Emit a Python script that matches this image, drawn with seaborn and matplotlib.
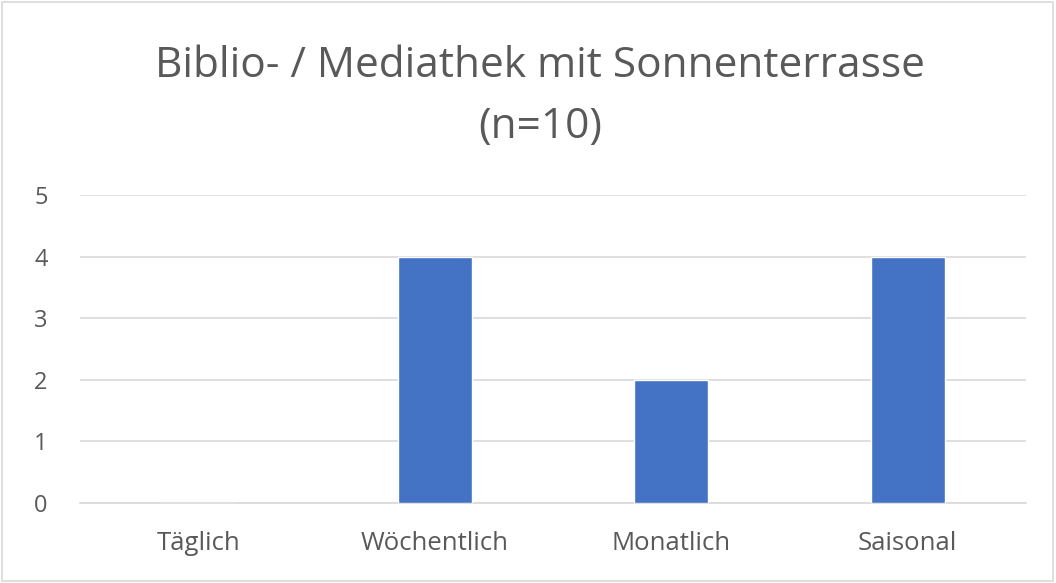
import matplotlib
matplotlib.use("Agg")
import matplotlib.pyplot as plt
import seaborn as sns
import pandas as pd
from matplotlib.patches import Rectangle

categories = ["Täglich", "Wöchentlich", "Monatlich", "Saisonal"]
values = [0, 4, 2, 4]
yticks = [0, 1, 2, 3, 4, 5]
title_lines = ["Biblio- / Mediathek mit Sonnenterrasse", "(n=10)"]

sns.set_theme(style="white")
plt.rcParams['font.family'] = ['Open Sans', 'DejaVu Sans']

df = pd.DataFrame({"cat": categories, "val": values})

fig = plt.figure(figsize=(10.56, 5.83), dpi=100)
ax = fig.add_axes([80/1056, 1-503/583, (1026-80)/1056, (503-195)/583])

sns.barplot(data=df, x="cat", y="val", color="#4472C4", width=0.315, ax=ax,
            saturation=1, zorder=3)

ax.set_ylim(0, 5)
ax.set_yticks(yticks)
ax.yaxis.grid(True, color="#d9d9d9", linewidth=1.2, zorder=0)
ax.set_axisbelow(True)
for s in ["left", "right", "top"]:
    ax.spines[s].set_visible(False)
ax.spines["bottom"].set_color("#d9d9d9")
ax.spines["bottom"].set_linewidth(1.2)
ax.set_xlabel("")
ax.set_ylabel("")
ax.tick_params(axis="both", length=0, colors="#595959")
ax.tick_params(axis="x", pad=20.5, labelsize=18.5)
ax.tick_params(axis="y", pad=33, labelsize=17)
for lbl in ax.get_yticklabels():
    lbl.set_horizontalalignment("left")

fig.text(540/1056, 1-77/583, title_lines[0], ha="center", va="baseline",
         fontsize=30.5, color="#595959")
fig.text(540/1056, 1-138/583, title_lines[1], ha="center", va="baseline",
         fontsize=30.5, color="#595959")

fig.patches.append(Rectangle((0.002, 0.003), 0.995, 0.993, transform=fig.transFigure,
                             fill=False, edgecolor="#d9d9d9", linewidth=1.2))

fig.savefig("out.png", dpi=100)
